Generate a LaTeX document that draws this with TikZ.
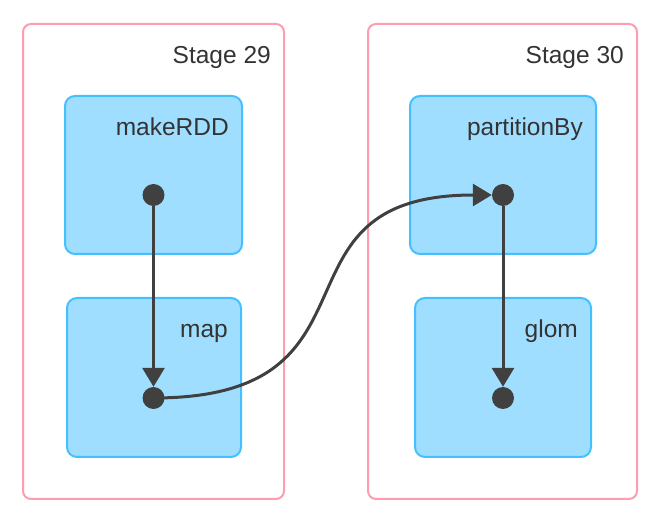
\documentclass[tikz,border=0pt]{standalone}
\usepackage{fontspec}
\setmainfont{Liberation Sans}
\usetikzlibrary{arrows.meta, positioning, calc}
\definecolor{stagepink}{HTML}{FF9CB0}
\definecolor{opfill}{HTML}{A0DEFF}
\definecolor{opline}{HTML}{45C0FF}
\definecolor{dotgray}{HTML}{404040}
\definecolor{txtgray}{HTML}{333333}

\begin{document}
\begin{tikzpicture}[x=1pt, y=-1pt,
  stagebox/.style={draw=stagepink, line width=2pt, rounded corners=8pt, fill=white, minimum height=475pt, inner sep=0},
  opbox/.style={draw=opline, fill=opfill, line width=2pt, rounded corners=10pt, inner sep=0},
  lbl/.style={text=txtgray, font=\fontsize{24.5}{28}\selectfont, inner sep=0, anchor=base east},
  rdd/.style={circle, fill=dotgray, minimum size=22pt, inner sep=0},
  flow/.style={draw=dotgray, line width=3pt, -{Triangle[length=19pt, width=22pt]}}]
\useasboundingbox (0,0) rectangle (654,518);
% stages
\foreach \id/\x/\w/\name in {s29/153.5/261/Stage 29, s30/502.5/269/Stage 30} {
  \node[stagebox, minimum width=\w pt] (\id) at (\x,261.5) {};
  \node[lbl] (\id lbl) at ($(\id.north east)+(-14,41)$) {\name};
}
% operations
\foreach \id/\x/\y/\w/\h in {
    makeRDD/153.5/175/177/158,
    map/154/377.5/174/159,
    partitionBy/503/175/186/158,
    glom/503/377.5/176/159
} {
  \node[opbox, minimum width=\w pt, minimum height=\h pt] (\id) at (\x,\y) {};
  \node[lbl] (\id lbl) at ($(\id.north east)+(-14,41)$) {\id};
}
% rdd dots
\node[rdd] (mkdot) at (153.5,195) {};
\node[rdd] (mapdot) at (153.5,398) {};
\node[rdd] (pbdot) at (503,195) {};
\node[rdd] (glomdot) at (503,398) {};
% edges
\draw[flow] (mkdot) -- (mapdot);
\draw[flow] (pbdot) -- (glomdot);
\draw[flow] (mapdot.center) .. controls +(243,0) and +(-233,0) .. (pbdot.west);
\end{tikzpicture}
\end{document}
